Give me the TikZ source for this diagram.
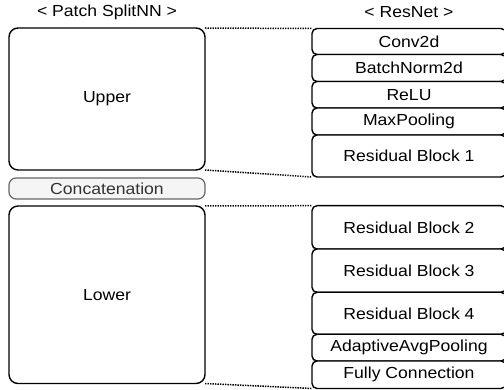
\documentclass[tikz,border=0pt]{standalone}
\usepackage{fontspec}
\setmainfont[FakeStretch=1.1]{Liberation Sans}
\begin{document}
\begin{tikzpicture}[x=1pt,y=-1pt,
  every node/.style={inner sep=0pt,outer sep=0pt,font=\fontsize{16}{19}\selectfont},
  bigbox/.style={draw=black,line width=1.4pt,rounded corners=9pt,fill=white,
    minimum width=196pt},
  layer/.style={draw=black,line width=1.4pt,rounded corners=5pt,fill=white,
    minimum width=194pt},
  concat/.style={draw=black!60,fill=black!4,text=black!80,line width=1.2pt,
    rounded corners=7pt,minimum width=196pt},
  link/.style={black,line width=1.5pt,dash pattern=on 1.4pt off 1.1pt}]
\useasboundingbox (0,0) rectangle (504,390);
\clip (0,0) rectangle (504,390);

% column titles
\node (ttl) at (107,12.5) {< Patch SplitNN >};
\node (ttr) at (409,12.5) {< ResNet >};

% Patch SplitNN side
\node[bigbox,minimum height=142pt] (upper) at (107,99) {Upper};
\node[concat,minimum height=21pt] (cat) at (107,188.5) {Concatenation};
\node[bigbox,minimum height=177.5pt] (lower) at (107,294.75) {Lower};

% ResNet layers
\node[layer,minimum height=26pt]   (conv) at (409,41.5)   {Conv2d};
\node[layer,minimum height=27pt]   (bn)   at (409,68)     {BatchNorm2d};
\node[layer,minimum height=26.5pt] (relu) at (409,94.75)  {ReLU};
\node[layer,minimum height=27pt]   (maxp) at (409,121.5)  {MaxPooling};
\node[layer,minimum height=42pt]   (rb1)  at (409,156)    {Residual Block 1};
\node[layer,minimum height=43.3pt] (rb2)  at (409,227.35) {Residual Block 2};
\node[layer,minimum height=43.3pt] (rb3)  at (409,270.65) {Residual Block 3};
\node[layer,minimum height=42pt]   (rb4)  at (409,313.3)  {Residual Block 4};
\node[layer,minimum height=26.7pt] (aap)  at (409,347.65) {AdaptiveAvgPooling};
\node[layer,minimum height=27.5pt] (fc)   at (409,374.75) {Fully Connection};

% dotted guides from each half to its layers
\draw[link] (upper.north east) -- (conv.north west);
\draw[link] (upper.south east) -- (rb1.south west);
\draw[link] (lower.north east) -- (rb2.north west);
\draw[link] (lower.south east) -- (fc.south west);
\end{tikzpicture}
\end{document}
